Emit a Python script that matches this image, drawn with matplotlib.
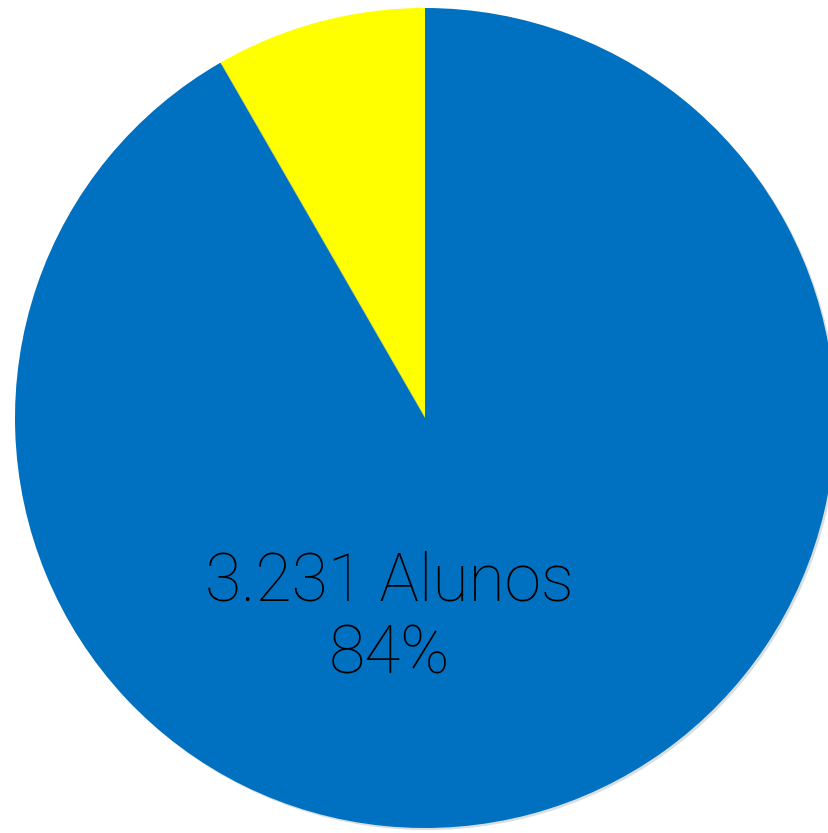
import matplotlib.pyplot as plt
import matplotlib.patheffects as pe

# dados
fatias = ['Outros', 'Alunos']
valores = [293, 3231]
cores = ['#FFFF00', '#0070C0']
rotulo = '3.231 Alunos\n84%'


def main():
	fig = plt.figure(figsize=(8.29, 8.33), dpi=100)
	ax = fig.add_axes([0, 0, 1, 1])
	wedges, _ = ax.pie(valores, colors=cores, startangle=90, counterclock=True,
		radius=1.0, center=(0, 0), wedgeprops={'linewidth': 0})
	for w in wedges:
		w.set_path_effects([pe.SimplePatchShadow(offset=(1.5, -1.5), alpha=0.15), pe.Normal()])
	ax.set_xlim(-425 / 410, 404 / 410)
	ax.set_ylim(-415 / 410, 418 / 410)
	ax.set_aspect('auto')
	ax.axis('off')
	ax.text(-0.087, -0.49, rotulo, ha='center', va='center', fontsize=47.5,
		family=['Roboto', 'DejaVu Sans'], fontweight='light', linespacing=1.17, color='black')
	fig.savefig('out.png', dpi=100)


if __name__ == '__main__':
	main()
